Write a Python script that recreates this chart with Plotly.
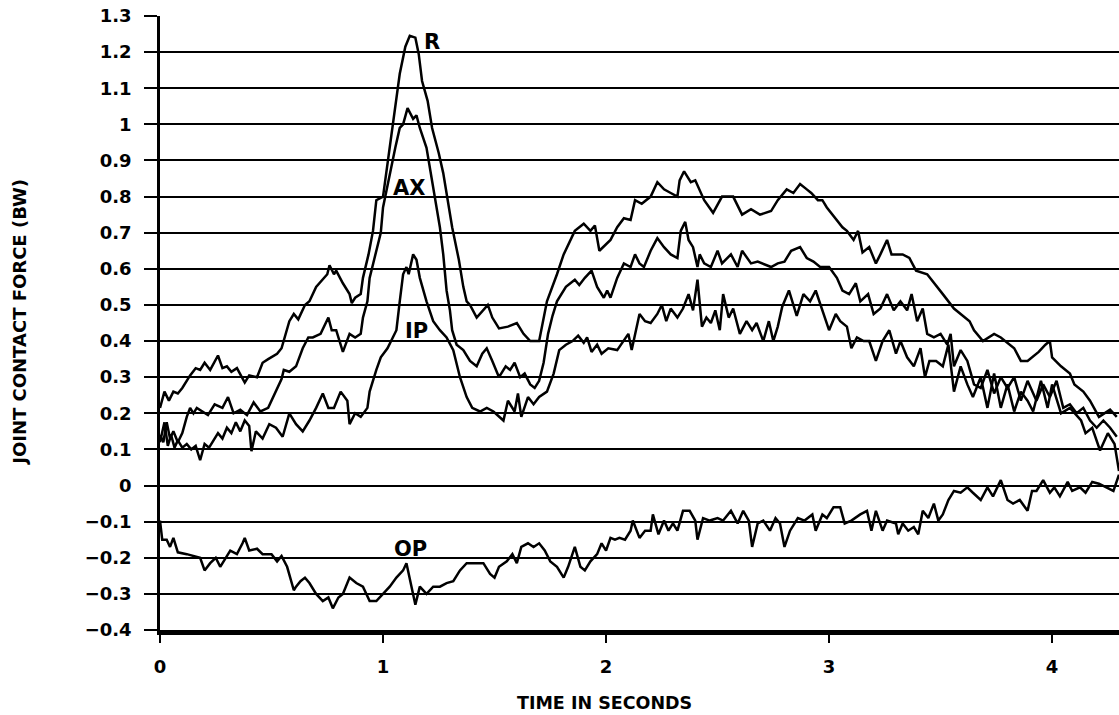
import plotly.graph_objects as go

# ---- data: joint contact force (body weights) against time (s) ----
R_t = [
    0.000, 0.020, 0.040, 0.060, 0.080, 0.100, 0.135, 0.160, 0.180, 0.200,
    0.225, 0.260, 0.280, 0.300, 0.320, 0.345, 0.380, 0.400, 0.435, 0.460,
    0.485, 0.525, 0.545, 0.560, 0.580, 0.600, 0.620, 0.650, 0.670, 0.700,
    0.730, 0.750, 0.760, 0.780, 0.790, 0.820, 0.850, 0.860, 0.875, 0.900,
    0.910, 0.935, 0.955, 0.970, 1.000, 1.020, 1.040, 1.060, 1.075, 1.100,
    1.120, 1.145, 1.160, 1.175, 1.200, 1.220, 1.250, 1.270, 1.290, 1.310,
    1.340, 1.360, 1.375, 1.390, 1.420, 1.450, 1.470, 1.490, 1.520, 1.560,
    1.600, 1.630, 1.660, 1.700, 1.735, 1.780, 1.810, 1.860, 1.900, 1.930,
    1.950, 1.970, 2.020, 2.050, 2.080, 2.110, 2.130, 2.160, 2.200, 2.230,
    2.260, 2.290, 2.320, 2.330, 2.350, 2.380, 2.400, 2.440, 2.480, 2.520,
    2.570, 2.610, 2.650, 2.690, 2.740, 2.770, 2.810, 2.840, 2.870, 2.900,
    2.920, 2.950, 2.970, 2.990, 3.030, 3.060, 3.080, 3.110, 3.130, 3.150,
    3.180, 3.210, 3.230, 3.260, 3.280, 3.330, 3.360, 3.390, 3.440, 3.470,
    3.510, 3.560, 3.590, 3.630, 3.650, 3.690, 3.740, 3.770, 3.830, 3.860,
    3.890, 3.940, 3.970, 3.990, 4.000, 4.040, 4.080, 4.100, 4.140, 4.170,
    4.210, 4.260, 4.290,
]
R_v = [
    0.215, 0.260, 0.235, 0.260, 0.255, 0.270, 0.305, 0.325, 0.320, 0.340,
    0.320, 0.360, 0.325, 0.330, 0.315, 0.325, 0.285, 0.305, 0.300, 0.340,
    0.350, 0.365, 0.380, 0.410, 0.455, 0.475, 0.460, 0.500, 0.510, 0.550,
    0.570, 0.585, 0.610, 0.585, 0.595, 0.560, 0.530, 0.505, 0.520, 0.530,
    0.575, 0.640, 0.705, 0.790, 0.800, 0.890, 0.990, 1.075, 1.140, 1.215,
    1.245, 1.240, 1.195, 1.120, 1.065, 0.990, 0.920, 0.865, 0.790, 0.715,
    0.625, 0.550, 0.510, 0.500, 0.465, 0.485, 0.500, 0.465, 0.435, 0.440,
    0.450, 0.420, 0.400, 0.400, 0.510, 0.585, 0.640, 0.705, 0.725, 0.705,
    0.720, 0.650, 0.680, 0.715, 0.740, 0.735, 0.790, 0.780, 0.800, 0.840,
    0.820, 0.810, 0.800, 0.845, 0.870, 0.840, 0.845, 0.790, 0.755, 0.800,
    0.800, 0.750, 0.765, 0.750, 0.760, 0.790, 0.820, 0.810, 0.835, 0.820,
    0.810, 0.790, 0.790, 0.770, 0.740, 0.715, 0.705, 0.680, 0.705, 0.645,
    0.660, 0.615, 0.640, 0.680, 0.640, 0.640, 0.630, 0.595, 0.585, 0.560,
    0.530, 0.490, 0.475, 0.455, 0.430, 0.400, 0.420, 0.410, 0.380, 0.345,
    0.345, 0.370, 0.390, 0.400, 0.355, 0.330, 0.310, 0.280, 0.260, 0.235,
    0.190, 0.210, 0.190,
]

AX_t = [
    0.000, 0.015, 0.030, 0.045, 0.060, 0.080, 0.100, 0.120, 0.135, 0.150,
    0.165, 0.190, 0.215, 0.245, 0.280, 0.305, 0.330, 0.360, 0.390, 0.420,
    0.450, 0.485, 0.525, 0.545, 0.555, 0.580, 0.610, 0.640, 0.665, 0.685,
    0.720, 0.755, 0.770, 0.790, 0.820, 0.850, 0.875, 0.900, 0.910, 0.930,
    0.940, 0.965, 0.990, 1.000, 1.030, 1.055, 1.075, 1.090, 1.110, 1.135,
    1.150, 1.165, 1.195, 1.220, 1.240, 1.255, 1.270, 1.285, 1.300, 1.310,
    1.330, 1.360, 1.390, 1.420, 1.445, 1.465, 1.490, 1.520, 1.550, 1.570,
    1.590, 1.615, 1.635, 1.660, 1.680, 1.700, 1.720, 1.740, 1.760, 1.780,
    1.820, 1.860, 1.880, 1.905, 1.935, 1.960, 1.990, 2.005, 2.020, 2.050,
    2.080, 2.110, 2.130, 2.150, 2.170, 2.200, 2.230, 2.260, 2.290, 2.320,
    2.335, 2.355, 2.370, 2.390, 2.410, 2.420, 2.440, 2.470, 2.500, 2.520,
    2.560, 2.590, 2.610, 2.650, 2.680, 2.700, 2.740, 2.770, 2.800, 2.830,
    2.870, 2.900, 2.930, 2.960, 3.000, 3.035, 3.060, 3.090, 3.120, 3.140,
    3.175, 3.200, 3.230, 3.260, 3.290, 3.320, 3.350, 3.370, 3.395, 3.420,
    3.440, 3.470, 3.500, 3.530, 3.545, 3.560, 3.590, 3.620, 3.650, 3.680,
    3.710, 3.740, 3.770, 3.800, 3.830, 3.860, 3.890, 3.930, 3.960, 3.990,
    4.020, 4.050, 4.080, 4.110, 4.140, 4.170, 4.200, 4.230, 4.260, 4.290,
]
AX_v = [
    0.140, 0.120, 0.175, 0.130, 0.150, 0.120, 0.145, 0.190, 0.215, 0.200,
    0.215, 0.205, 0.195, 0.225, 0.215, 0.245, 0.200, 0.210, 0.195, 0.230,
    0.205, 0.215, 0.270, 0.295, 0.320, 0.315, 0.330, 0.380, 0.410, 0.410,
    0.420, 0.465, 0.430, 0.430, 0.370, 0.420, 0.410, 0.420, 0.465, 0.510,
    0.575, 0.640, 0.700, 0.770, 0.865, 0.935, 0.990, 1.000, 1.045, 1.015,
    1.025, 0.990, 0.935, 0.845, 0.780, 0.715, 0.640, 0.540, 0.485, 0.430,
    0.390, 0.375, 0.345, 0.330, 0.365, 0.380, 0.345, 0.300, 0.330, 0.320,
    0.340, 0.300, 0.310, 0.280, 0.270, 0.290, 0.340, 0.420, 0.470, 0.510,
    0.550, 0.570, 0.555, 0.575, 0.595, 0.550, 0.520, 0.540, 0.520, 0.575,
    0.615, 0.605, 0.640, 0.615, 0.605, 0.650, 0.685, 0.660, 0.640, 0.630,
    0.705, 0.730, 0.680, 0.660, 0.605, 0.640, 0.615, 0.605, 0.650, 0.615,
    0.640, 0.605, 0.650, 0.615, 0.620, 0.615, 0.605, 0.615, 0.620, 0.650,
    0.660, 0.630, 0.620, 0.605, 0.605, 0.575, 0.540, 0.530, 0.560, 0.510,
    0.530, 0.475, 0.490, 0.530, 0.485, 0.510, 0.485, 0.530, 0.455, 0.490,
    0.420, 0.410, 0.420, 0.390, 0.420, 0.330, 0.375, 0.345, 0.280, 0.270,
    0.320, 0.255, 0.300, 0.270, 0.300, 0.235, 0.290, 0.235, 0.280, 0.245,
    0.290, 0.215, 0.225, 0.200, 0.215, 0.180, 0.160, 0.180, 0.160, 0.135,
]

IP_t = [
    0.000, 0.020, 0.035, 0.050, 0.065, 0.080, 0.100, 0.120, 0.140, 0.160,
    0.180, 0.200, 0.220, 0.240, 0.260, 0.280, 0.300, 0.320, 0.340, 0.360,
    0.380, 0.400, 0.410, 0.430, 0.460, 0.490, 0.520, 0.550, 0.580, 0.610,
    0.640, 0.670, 0.700, 0.730, 0.755, 0.780, 0.810, 0.840, 0.850, 0.875,
    0.900, 0.930, 0.940, 0.970, 0.990, 1.020, 1.045, 1.060, 1.075, 1.090,
    1.105, 1.115, 1.135, 1.150, 1.165, 1.195, 1.225, 1.255, 1.285, 1.315,
    1.345, 1.375, 1.400, 1.435, 1.465, 1.495, 1.540, 1.560, 1.590, 1.605,
    1.620, 1.650, 1.675, 1.700, 1.735, 1.765, 1.790, 1.820, 1.850, 1.875,
    1.900, 1.915, 1.935, 1.960, 1.980, 2.010, 2.050, 2.080, 2.100, 2.115,
    2.130, 2.150, 2.175, 2.200, 2.230, 2.250, 2.270, 2.290, 2.320, 2.345,
    2.370, 2.390, 2.410, 2.430, 2.450, 2.470, 2.490, 2.510, 2.525, 2.550,
    2.570, 2.600, 2.630, 2.655, 2.675, 2.705, 2.730, 2.750, 2.770, 2.790,
    2.820, 2.855, 2.885, 2.915, 2.940, 2.970, 3.000, 3.030, 3.050, 3.080,
    3.100, 3.125, 3.155, 3.180, 3.210, 3.240, 3.270, 3.300, 3.320, 3.350,
    3.380, 3.410, 3.430, 3.450, 3.480, 3.510, 3.535, 3.560, 3.590, 3.620,
    3.645, 3.680, 3.710, 3.740, 3.770, 3.800, 3.830, 3.860, 3.890, 3.915,
    3.950, 3.980, 4.000, 4.040, 4.080, 4.130, 4.150, 4.180, 4.215, 4.250,
    4.280, 4.300,
]
IP_v = [
    0.120, 0.175, 0.110, 0.140, 0.105, 0.125, 0.105, 0.115, 0.100, 0.110,
    0.070, 0.115, 0.105, 0.125, 0.145, 0.130, 0.160, 0.145, 0.175, 0.150,
    0.180, 0.165, 0.095, 0.150, 0.130, 0.170, 0.160, 0.135, 0.200, 0.170,
    0.150, 0.180, 0.215, 0.255, 0.215, 0.215, 0.260, 0.235, 0.170, 0.200,
    0.190, 0.215, 0.260, 0.320, 0.355, 0.380, 0.410, 0.430, 0.510, 0.585,
    0.605, 0.585, 0.640, 0.625, 0.575, 0.510, 0.455, 0.430, 0.410, 0.375,
    0.300, 0.245, 0.215, 0.205, 0.215, 0.205, 0.180, 0.235, 0.205, 0.255,
    0.190, 0.245, 0.225, 0.245, 0.260, 0.310, 0.375, 0.390, 0.400, 0.415,
    0.395, 0.410, 0.370, 0.390, 0.365, 0.380, 0.375, 0.400, 0.420, 0.375,
    0.420, 0.475, 0.455, 0.450, 0.475, 0.500, 0.455, 0.490, 0.465, 0.490,
    0.530, 0.485, 0.570, 0.440, 0.465, 0.450, 0.485, 0.430, 0.530, 0.465,
    0.490, 0.420, 0.455, 0.430, 0.450, 0.400, 0.455, 0.400, 0.440, 0.495,
    0.540, 0.470, 0.530, 0.510, 0.540, 0.485, 0.430, 0.475, 0.455, 0.440,
    0.380, 0.410, 0.400, 0.400, 0.345, 0.400, 0.430, 0.365, 0.400, 0.355,
    0.330, 0.380, 0.300, 0.345, 0.345, 0.330, 0.390, 0.260, 0.330, 0.280,
    0.245, 0.300, 0.215, 0.310, 0.215, 0.280, 0.205, 0.260, 0.235, 0.205,
    0.290, 0.215, 0.280, 0.200, 0.215, 0.180, 0.145, 0.160, 0.097, 0.145,
    0.115, 0.040,
]

OP_t = [
    0.000, 0.010, 0.030, 0.045, 0.060, 0.080, 0.120, 0.150, 0.180, 0.200,
    0.225, 0.250, 0.270, 0.315, 0.345, 0.370, 0.380, 0.400, 0.435, 0.460,
    0.500, 0.525, 0.545, 0.570, 0.585, 0.600, 0.610, 0.630, 0.650, 0.670,
    0.700, 0.730, 0.755, 0.775, 0.800, 0.820, 0.850, 0.880, 0.910, 0.940,
    0.970, 1.000, 1.030, 1.060, 1.090, 1.105, 1.120, 1.145, 1.165, 1.195,
    1.225, 1.255, 1.285, 1.315, 1.345, 1.375, 1.400, 1.420, 1.450, 1.480,
    1.500, 1.520, 1.555, 1.580, 1.600, 1.620, 1.650, 1.675, 1.700, 1.725,
    1.750, 1.780, 1.810, 1.830, 1.860, 1.885, 1.905, 1.930, 1.960, 1.980,
    2.000, 2.020, 2.040, 2.060, 2.085, 2.110, 2.120, 2.150, 2.175, 2.200,
    2.210, 2.235, 2.260, 2.280, 2.300, 2.320, 2.345, 2.375, 2.400, 2.410,
    2.435, 2.465, 2.500, 2.525, 2.560, 2.590, 2.615, 2.640, 2.655, 2.680,
    2.705, 2.735, 2.760, 2.780, 2.800, 2.825, 2.860, 2.890, 2.925, 2.940,
    2.970, 2.990, 3.020, 3.050, 3.070, 3.100, 3.140, 3.170, 3.190, 3.210,
    3.240, 3.260, 3.300, 3.310, 3.330, 3.355, 3.380, 3.400, 3.420, 3.445,
    3.470, 3.490, 3.510, 3.535, 3.560, 3.590, 3.620, 3.645, 3.680, 3.710,
    3.735, 3.770, 3.800, 3.825, 3.855, 3.890, 3.910, 3.930, 3.960, 3.990,
    4.010, 4.035, 4.070, 4.090, 4.125, 4.150, 4.180, 4.210, 4.240, 4.275,
    4.300,
]
OP_v = [
    -0.097, -0.150, -0.150, -0.170, -0.145, -0.185, -0.190, -0.195, -0.200, -0.235,
    -0.215, -0.200, -0.225, -0.180, -0.190, -0.160, -0.145, -0.180, -0.175, -0.190,
    -0.190, -0.210, -0.195, -0.225, -0.255, -0.290, -0.280, -0.265, -0.255, -0.270,
    -0.300, -0.320, -0.310, -0.340, -0.310, -0.300, -0.255, -0.270, -0.280, -0.320,
    -0.320, -0.300, -0.280, -0.255, -0.235, -0.215, -0.255, -0.330, -0.280, -0.300,
    -0.280, -0.280, -0.270, -0.265, -0.235, -0.215, -0.215, -0.215, -0.215, -0.245,
    -0.255, -0.225, -0.210, -0.190, -0.215, -0.170, -0.160, -0.170, -0.160, -0.180,
    -0.210, -0.225, -0.255, -0.225, -0.170, -0.225, -0.235, -0.210, -0.190, -0.160,
    -0.180, -0.145, -0.150, -0.145, -0.150, -0.125, -0.097, -0.145, -0.125, -0.125,
    -0.080, -0.135, -0.097, -0.125, -0.105, -0.125, -0.070, -0.070, -0.097, -0.150,
    -0.090, -0.097, -0.090, -0.097, -0.070, -0.105, -0.070, -0.097, -0.170, -0.105,
    -0.097, -0.125, -0.090, -0.105, -0.170, -0.125, -0.090, -0.097, -0.080, -0.125,
    -0.080, -0.090, -0.060, -0.060, -0.105, -0.097, -0.080, -0.070, -0.125, -0.070,
    -0.125, -0.097, -0.105, -0.135, -0.105, -0.125, -0.115, -0.135, -0.070, -0.090,
    -0.050, -0.097, -0.080, -0.040, -0.015, -0.020, -0.005, -0.020, -0.040, -0.005,
    -0.030, 0.015, -0.040, -0.050, -0.040, -0.070, -0.015, -0.015, 0.015, -0.020,
    -0.005, -0.030, 0.010, -0.015, -0.005, -0.020, 0.010, 0.005, -0.005, -0.015,
    0.030,
]

Y_TICKS = [-0.4, -0.3, -0.2, -0.1, 0, 0.1, 0.2, 0.3, 0.4, 0.5, 0.6, 0.7,
           0.8, 0.9, 1.0, 1.1, 1.2, 1.3]
Y_TICK_TEXT = ["\u22120.4", "\u22120.3", "\u22120.2", "\u22120.1", "0", "0.1", "0.2",
               "0.3", "0.4", "0.5", "0.6", "0.7", "0.8", "0.9", "1", "1.1",
               "1.2", "1.3"]
X_TICKS = [0, 1, 2, 3, 4]

SERIES = [("R", R_t, R_v), ("AX", AX_t, AX_v), ("IP", IP_t, IP_v), ("OP", OP_t, OP_v)]
for name, t, v in SERIES:
    assert len(t) == len(v), name

FONT = "DejaVu Sans"

fig = go.Figure()
for name, t, v in SERIES:
    fig.add_trace(go.Scatter(
        x=t, y=v, mode="lines", name=name,
        line=dict(color="black", width=2.5),
        hoverinfo="skip", showlegend=False,
    ))

# curve labels
for text, lx, ly in [("R", 1.218, 1.228), ("AX", 1.117, 0.823),
                     ("IP", 1.151, 0.427), ("OP", 1.121, -0.175)]:
    fig.add_annotation(x=lx, y=ly, text=text, showarrow=False,
                       font=dict(family=FONT, size=21, color="black", weight="bold"))

# axis titles
fig.add_annotation(xref="paper", yref="paper", x=0.464, y=-0.119,
                   text="TIME IN SECONDS", showarrow=False,
                   xanchor="center", yanchor="middle",
                   font=dict(family=FONT, size=17.5, color="black", weight="bold"))
fig.add_annotation(xref="paper", yref="paper", x=-0.146, y=0.502,
                   text="JOINT CONTACT FORCE (BW)", showarrow=False, textangle=-90,
                   xanchor="center", yanchor="middle",
                   font=dict(family=FONT, size=18, color="black", weight="bold"))

fig.update_layout(
    width=1119, height=715,
    margin=dict(l=160, r=0, t=16, b=85),
    paper_bgcolor="white", plot_bgcolor="white",
    xaxis=dict(
        range=[0, 4.30], tickvals=X_TICKS, ticktext=[str(x) for x in X_TICKS],
        showgrid=False, zeroline=False,
        showline=True, linecolor="black", linewidth=5,
        ticks="outside", ticklen=8, tickwidth=2, tickcolor="black",
        ticklabelstandoff=8,
        tickfont=dict(family=FONT, size=18, color="black", weight="bold"),
    ),
    yaxis=dict(
        range=[-0.4, 1.3], tickvals=Y_TICKS, ticktext=Y_TICK_TEXT,
        showgrid=True, gridcolor="black", gridwidth=2, zeroline=False,
        showline=True, linecolor="black", linewidth=2.5,
        ticks="outside", ticklen=13, tickwidth=2, tickcolor="black",
        ticklabelstandoff=9,
        tickfont=dict(family=FONT, size=18, color="black", weight="bold"),
    ),
)

fig.write_html("out.html")
